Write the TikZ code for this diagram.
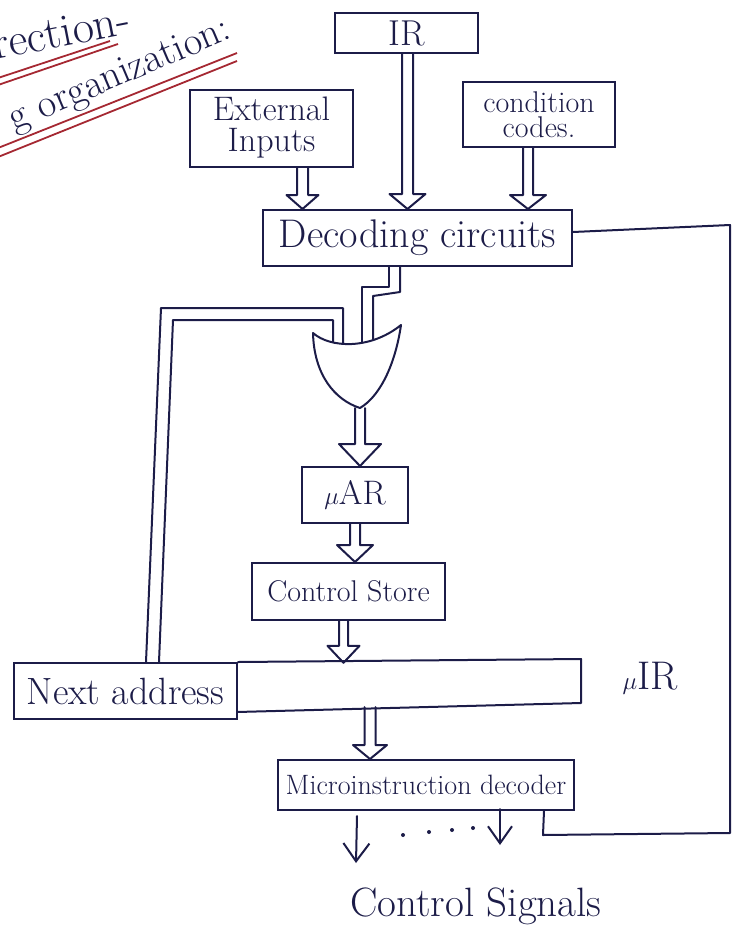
\documentclass[tikz,border=0pt]{standalone}
\usetikzlibrary{arrows.meta,calc}
\definecolor{ink}{RGB}{28,28,72}
\definecolor{redink}{RGB}{165,40,50}
\newcommand{\fs}[2]{\fontsize{#1}{#2}\selectfont}
% hollow (double-line) arrow: #1 start point, #2 point giving the end y,
% #3 shaft half width, #4 head half width, #5 head length
\newcommand{\hollowarrow}[5]{%
  \draw[wire] let \p1=(#1), \p2=(#2) in
    (\x1-#3pt,\y1) -- (\x1-#3pt,\y2+#5pt) -- (\x1-#4pt,\y2+#5pt) -- (\x1,\y2)
    -- (\x1+#4pt,\y2+#5pt) -- (\x1+#3pt,\y2+#5pt) -- (\x1+#3pt,\y1);}
\tikzset{
  wire/.style={draw=ink, line width=2pt, line join=round, line cap=round},
  box/.style={draw=ink, line width=2pt, text=ink, inner sep=0pt, align=center},
  lbl/.style={text=ink, inner sep=0pt, align=center},
  redline/.style={draw=redink, line width=1.8pt},
}
\begin{document}
\begin{tikzpicture}[x=1pt,y=-1pt]
\useasboundingbox (0,0) rectangle (736,937);

% title fragments
\node[lbl, rotate=11, anchor=base west, font=\fs{46}{46}] (t1) at (-5,60) {rection-};
\node[lbl, rotate=23, anchor=base west, font=\fs{40}{40}] (t2) at (14,131) {g organization:};
\draw[redline] (-2,78) -- (110,41);
\draw[redline] (-2,85) -- (118,44);
\draw[redline] (-2,148) -- (237,53);
\draw[redline] (-2,157) -- (237,61);

% boxes
\node[box, minimum width=143, minimum height=40, font=\fs{36}{36}] (ir) at (406.5,33) {IR};
\node[box, minimum width=163, minimum height=77, font=\fs{34}{31}] (ext) at (271.5,128)
  {External\\Inputs};
\node[box, minimum width=152, minimum height=65, font=\fs{30}{25}] (cond) at (539,114.5)
  {condition\\codes.};
\node[box, minimum width=309, minimum height=56, font=\fs{40}{40}] (dec) at (417.5,238) {Decoding circuits};
\node[box, minimum width=106, minimum height=56, font=\fs{34}{34}] (mar) at (355,495) {$\mu$AR};
\node[box, minimum width=193, minimum height=57, font=\fs{30}{30}] (cs) at (348.5,591.5) {Control Store};
\node[box, minimum width=223, minimum height=56, font=\fs{38}{38}] (na) at (125.5,691) {Next address};
\node[inner sep=0pt, minimum width=344, minimum height=44] (uir) at (409,685) {};
\draw[wire] (na.north east) -- (581,659) -- (581,703) -- (237,712);
\node[box, minimum width=296, minimum height=50, font=\fs{28}{28}] (mid) at (426,785) {Microinstruction decoder};
\node[lbl, font=\fs{40}{40}] (uirlbl) at (650,678) {$\mu$IR};
\node[lbl, font=\fs{41}{41}] (sig) at (476,906) {Control Signals};

% hollow arrows into decoding circuits
\hollowarrow{$(ext.south)+(31,0)$}{dec.north}{5.5}{16}{14}
\hollowarrow{$(ir.south)+(1,0)$}{dec.north}{5.5}{18}{15}
\hollowarrow{$(cond.south)+(-11,0)$}{dec.north}{5}{18}{14}

% OR gate
\coordinate (gL) at (313,333);
\coordinate (gR) at (401,325);
\coordinate (gB) at (360,408);
\draw[wire] (gL) .. controls (330,348) and (370,350) .. (gR)
  .. controls (396,360) and (382,395) .. (gB)
  .. controls (335,400) and (314,375) .. (gL);

% decoding circuits -> gate (stepped double line)
\draw[wire] ($(dec.south)+(-28.5,0)$) -- ++(0,20) -- ++(-27,0) -- ++(0,55);
\draw[wire] ($(dec.south)+(-17.5,0)$) -- ++(0,25) -- ++(-27,4) -- ++(0,44);

% next address -> gate (double line)
\draw[wire] ($(na.north)+(20.5,0)$) -- ++(15,-354) -- ++(182,0) -- ++(0,35);
\draw[wire] ($(na.north)+(33.5,0)$) -- ++(14,-342) -- ++(160,0) -- ++(0,22);

% vertical hollow arrows
\hollowarrow{gB}{mar.north}{5}{21}{22}
\hollowarrow{mar.south}{cs.north}{5}{18}{17}
\hollowarrow{$(cs.south)+(-5,0)$}{uir.north}{4.5}{16}{17}
\hollowarrow{$(uir.south)+(-39,0)$}{mid.north}{5.5}{17}{14}

% feedback from decoding circuits to microinstruction decoder
\coordinate (fbT) at (730,225);
\coordinate (fbB) at (730,833);
\draw[wire] ($(dec.east)+(0,-6)$) -- (fbT) -- (fbB) -- (543,835) -- ($(mid.south east)+(-31,0)$);

% control signal outputs
\draw[wire, -{Straight Barb[length=18pt,width=26pt,line width=2pt]}] ($(mid.south)+(-69,5)$) -- ++(-1,47);
\draw[wire, -{Straight Barb[length=17pt,width=24pt,line width=2pt]}] ($(mid.south)+(74,-2)$) -- ++(0,36);
\foreach \px/\py in {403/835, 429/832, 452/830, 473/828}
  \fill[ink] (\px,\py) circle (2);
\end{tikzpicture}
\end{document}
